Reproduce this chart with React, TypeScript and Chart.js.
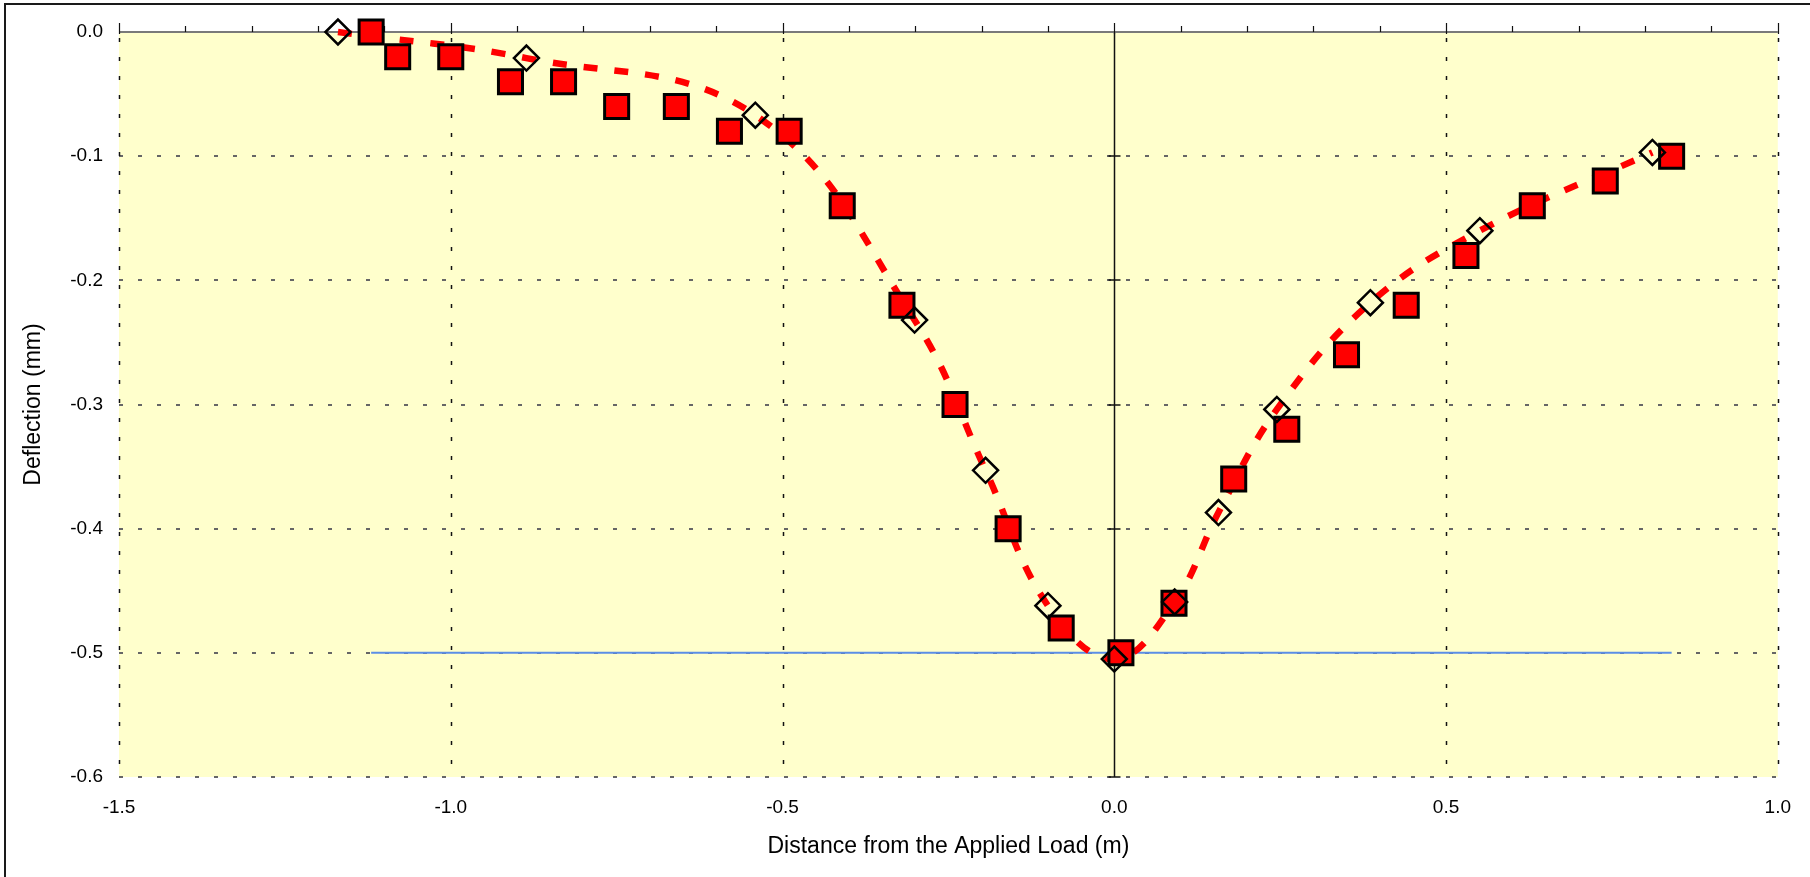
import React, { useEffect, useRef } from "react";
import { Chart, registerables } from "chart.js";

Chart.register(...registerables);

// Measured deflections (red squares)
const measuredX = [-1.12, -1.08, -1.0, -0.91, -0.83, -0.75, -0.66, -0.58, -0.49, -0.41, -0.32, -0.24, -0.16, -0.08, 0.01, 0.09, 0.18, 0.26, 0.35, 0.44, 0.53, 0.63, 0.74, 0.84];
const measuredY = [0, -0.02, -0.02, -0.04, -0.04, -0.06, -0.06, -0.08, -0.08, -0.14, -0.22, -0.3, -0.4, -0.48, -0.5, -0.46, -0.36, -0.32, -0.26, -0.22, -0.18, -0.14, -0.12, -0.1];

// Predicted deflections (open diamonds, joined by the dashed red curve)
const predictedX = [-1.17, -0.886, -0.541, -0.301, -0.194, -0.1, 0.0, 0.091, 0.157, 0.245, 0.386, 0.551, 0.811];
const predictedY = [0, -0.021, -0.067, -0.232, -0.353, -0.462, -0.505, -0.459, -0.387, -0.304, -0.218, -0.16, -0.097];

// Reference level (blue line)
const referenceX = [-1.12, 0.84];
const referenceY = [-0.5, -0.5];

// Axis ranges and steps
const xLimits = [-1.5, 1.0];
const xMajorStep = 0.5;
const xMinorStep = 0.1;
const yLimits = [-0.6, 0];
const yStep = 0.1;

const FONT = "'Liberation Sans', Arial, Helvetica, sans-serif";

const toPoints = (xs: number[], ys: number[]) => xs.map((x, i) => ({ x, y: ys[i] }));

const sheetDecor = {
  id: "sheetDecor",
  beforeDraw(chart: any) {
    const { ctx, chartArea: a } = chart;
    ctx.save();
    ctx.fillStyle = "#FFFFCC";
    ctx.fillRect(a.left, a.top, a.right - a.left, a.bottom - a.top);
    // outer frame
    ctx.strokeStyle = "#1a1a1a";
    ctx.lineWidth = 2;
    ctx.beginPath();
    ctx.moveTo(5, chart.height);
    ctx.lineTo(5, 4);
    ctx.lineTo(chart.width, 4);
    ctx.stroke();
    ctx.restore();
  },
  beforeDatasetsDraw(chart: any) {
    const { ctx, chartArea: a } = chart;
    const xs = chart.scales.x;
    const ys = chart.scales.y;
    const seg = (x1: number, y1: number, x2: number, y2: number) => {
      ctx.beginPath();
      ctx.moveTo(x1, y1);
      ctx.lineTo(x2, y2);
      ctx.stroke();
    };
    ctx.save();
    ctx.lineCap = "butt";

    // horizontal dashed grid
    ctx.setLineDash([4, 15]);
    ctx.lineWidth = 2;
    ctx.strokeStyle = "#666666";
    for (const t of ys.ticks) {
      if (Math.abs(t.value) < 1e-9) continue;
      const py = Math.round(ys.getPixelForValue(t.value));
      seg(a.left, py, a.right, py);
    }

    // vertical dashed grid
    ctx.lineWidth = 1.5;
    ctx.strokeStyle = "#111";
    ctx.lineDashOffset = -6;
    for (const t of xs.ticks) {
      if (Math.abs(t.value) < 1e-9) continue;
      const px = Math.round(xs.getPixelForValue(t.value)) + 0.5;
      seg(px, a.top, px, a.bottom);
    }
    ctx.setLineDash([]);
    ctx.lineDashOffset = 0;

    // zero line for distance with small ticks at each deflection step
    const x0 = Math.round(xs.getPixelForValue(0)) + 0.5;
    ctx.strokeStyle = "#111";
    ctx.lineWidth = 1.5;
    seg(x0, a.top, x0, a.bottom);
    for (const t of ys.ticks) {
      const py = Math.round(ys.getPixelForValue(t.value));
      seg(x0 - 6, py, x0 + 6, py);
    }

    // top axis line with minor ticks
    const yTop = Math.round(ys.getPixelForValue(0));
    ctx.strokeStyle = "#7a7a7a";
    ctx.lineWidth = 2;
    seg(a.left, yTop, a.right, yTop);
    ctx.strokeStyle = "#111";
    ctx.lineWidth = 1.2;
    const n = Math.round((xLimits[1] - xLimits[0]) / xMinorStep);
    for (let i = 0; i <= n; i++) {
      const v = xLimits[0] + i * xMinorStep;
      const px = Math.round(xs.getPixelForValue(v)) + 0.5;
      const major = Math.abs(v / xMajorStep - Math.round(v / xMajorStep)) < 1e-6;
      seg(px, yTop - (major ? 9 : 6), px, yTop + (major ? 2 : 0));
    }
    ctx.restore();
  },
};

export default function App() {
  const canvasRef = useRef<HTMLCanvasElement>(null);

  useEffect(() => {
    const canvas = canvasRef.current;
    if (!canvas) return;
    const chart = new Chart(canvas, {
      type: "scatter",
      data: {
        datasets: [
          {
            label: "Predicted",
            data: toPoints(predictedX, predictedY),
            pointStyle: "rectRot",
            pointRadius: 12.5,
            pointHoverRadius: 12.5,
            pointBackgroundColor: "rgba(0,0,0,0)",
            pointBorderColor: "#000",
            pointBorderWidth: 2.5,
            showLine: false,
            clip: false,
            order: 0,
          },
          {
            label: "Measured",
            data: toPoints(measuredX, measuredY),
            pointStyle: "rect",
            pointRadius: 17,
            pointHoverRadius: 17,
            pointBackgroundColor: "#FF0000",
            pointBorderColor: "#000",
            pointBorderWidth: 3,
            showLine: false,
            clip: false,
            order: 1,
          },
          {
            label: "Predicted curve",
            data: toPoints(predictedX, predictedY),
            showLine: true,
            borderColor: "#FF0000",
            borderWidth: 6.5,
            borderDash: [14, 17],
            borderCapStyle: "butt",
            tension: 0.4,
            pointRadius: 0,
            pointHoverRadius: 0,
            clip: false,
            order: 2,
          },
          {
            label: "Reference",
            data: toPoints(referenceX, referenceY),
            showLine: true,
            borderColor: "#5b8ee6",
            borderWidth: 2,
            pointRadius: 0,
            pointHoverRadius: 0,
            order: 3,
          },
        ],
      },
      options: {
        animation: false,
        responsive: false,
        devicePixelRatio: 1,
        layout: { padding: { top: 32, right: 28, left: 0, bottom: 0 } },
        plugins: {
          legend: { display: false },
          tooltip: { enabled: false },
          title: { display: false },
        },
        scales: {
          x: {
            type: "linear",
            min: xLimits[0],
            max: xLimits[1],
            grid: { display: false, drawTicks: false },
            border: { display: false },
            ticks: {
              stepSize: xMajorStep,
              autoSkip: false,
              maxRotation: 0,
              padding: 19,
              color: "#000",
              font: { family: FONT, size: 19 },
              callback: (v: any) => Number(v).toFixed(1),
            },
            title: {
              display: true,
              text: "Distance from the Applied Load (m)",
              color: "#000",
              font: { family: FONT, size: 23 },
              padding: { top: 0, bottom: 17 },
            },
            afterFit: (scale: any) => {
              scale.height = 100;
            },
          },
          y: {
            type: "linear",
            min: yLimits[0],
            max: yLimits[1],
            grid: { display: false, drawTicks: false },
            border: { display: false },
            ticks: {
              stepSize: yStep,
              autoSkip: false,
              padding: 16,
              color: "#000",
              font: { family: FONT, size: 19 },
              callback: (v: any) => Number(v).toFixed(1),
            },
            title: {
              display: true,
              text: "Deflection (mm)",
              color: "#000",
              font: { family: FONT, size: 23 },
              padding: { top: 20, bottom: 0 },
            },
            afterFit: (scale: any) => {
              scale.width = 119;
            },
          },
        },
      },
      plugins: [sheetDecor],
    } as any);
    return () => chart.destroy();
  }, []);

  return (
    <div style={{ position: "absolute", left: 0, top: 0, width: 1810, height: 877, background: "#fff" }}>
      <canvas ref={canvasRef} width={1810} height={877} style={{ display: "block", width: 1810, height: 877 }} />
    </div>
  );
}
